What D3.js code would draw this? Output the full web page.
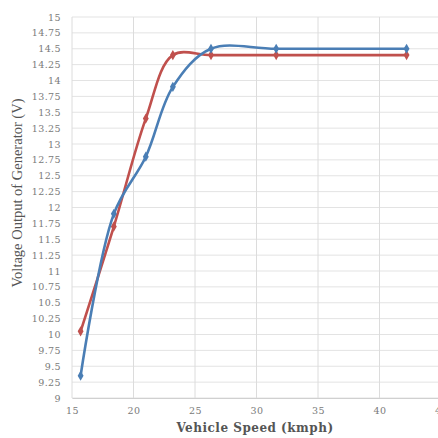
<!DOCTYPE html>
<html>
<head>
<meta charset="utf-8">
<script src="https://cdn.jsdelivr.net/npm/d3@7"></script>
<style>
  body { margin: 0; background: #fff; }
  .tick text { fill: #7a7a7a; font-family: "DejaVu Serif", serif; font-size: 9.5px; letter-spacing: 0.4px; }
</style>
</head>
<body>
<div id="chart"></div>
<script>
// speeds in kmph
var speed = [15.7, 18.4, 21.0, 23.2, 26.3, 31.6, 42.2];
// voltage output, two series
var blueVolts = [9.35, 11.9, 12.8, 13.9, 14.5, 14.5, 14.5];
var redVolts = [10.05, 11.7, 13.4, 14.4, 14.4, 14.4, 14.4];
var xTicks = [15, 20, 25, 30, 35, 40, 45];
var yTicks = d3.range(9, 15.001, 0.25);

var margin = {top: 17, right: -3, bottom: 40, left: 72},
    width = 438 - margin.left - margin.right,
    height = 438 - margin.top - margin.bottom;

var x = d3.scaleLinear().domain([15, 45]).range([0, width]);
var y = d3.scaleLinear().domain([9, 15]).range([height, 0]);

var svg = d3.select("#chart").append("svg")
    .attr("width", 438)
    .attr("height", 438)
  .append("g")
    .attr("transform", "translate(" + margin.left + "," + margin.top + ")");

// gridlines
svg.append("g")
    .selectAll("line")
    .data(yTicks)
  .enter().append("line")
    .attr("x1", 0).attr("x2", width)
    .attr("y1", function(d) { return y(d); })
    .attr("y2", function(d) { return y(d); })
    .style("stroke", "#e3e3e3")
    .style("stroke-width", 1);

svg.append("g")
    .selectAll("line")
    .data(xTicks)
  .enter().append("line")
    .attr("y1", 0).attr("y2", height)
    .attr("x1", function(d) { return x(d); })
    .attr("x2", function(d) { return x(d); })
    .style("stroke", "#dcdcdc")
    .style("stroke-width", 1);

var xAxis = d3.axisBottom(x).tickValues(xTicks).tickSize(0).tickPadding(9);
var yAxis = d3.axisLeft(y).tickValues(yTicks).tickSize(0).tickPadding(11)
    .tickFormat(function(d) { return +d.toFixed(2); });

var gx = svg.append("g")
    .attr("transform", "translate(0," + height + ")")
    .call(xAxis);
gx.select(".domain").style("stroke", "#d0d0d0");

var gy = svg.append("g").call(yAxis);
gy.select(".domain").remove();

// series
function drawSeries(vals, color) {
  var pts = speed.map(function(s, i) { return [s, vals[i]]; });
  var line = d3.line()
      .x(function(d) { return x(d[0]); })
      .y(function(d) { return y(d[1]); })
      .curve(d3.curveCatmullRom.alpha(0.5));
  svg.append("path")
      .datum(pts)
      .attr("d", line)
      .style("fill", "none")
      .style("stroke", color)
      .style("stroke-width", 2.6);
  svg.selectAll(".dot" + color.slice(1))
      .data(pts)
    .enter().append("path")
      .attr("class", "dot" + color.slice(1))
      .attr("d", d3.symbol().type(d3.symbolDiamond).size(30))
      .attr("transform", function(d) { return "translate(" + x(d[0]) + "," + y(d[1]) + ")"; })
      .style("fill", color);
}

drawSeries(redVolts, "#c0504d");
drawSeries(blueVolts, "#4a7eb5");

d3.select("svg").append("text")
    .attr("x", 255)
    .attr("y", 432)
    .style("text-anchor", "middle")
    .style("font-family", "DejaVu Serif, serif")
    .style("font-weight", "bold")
    .style("font-size", "12px")
    .style("letter-spacing", "0.5px")
    .style("fill", "#555")
    .text("Vehicle Speed (kmph)");

d3.select("svg").append("text")
    .attr("transform", "translate(22,193) rotate(-90)")
    .style("text-anchor", "middle")
    .style("font-family", "Liberation Serif, serif")
    .style("font-size", "14.5px")
    .style("fill", "#555")
    .text("Voltage Output of Generator (V)");
</script>
</body>
</html>
